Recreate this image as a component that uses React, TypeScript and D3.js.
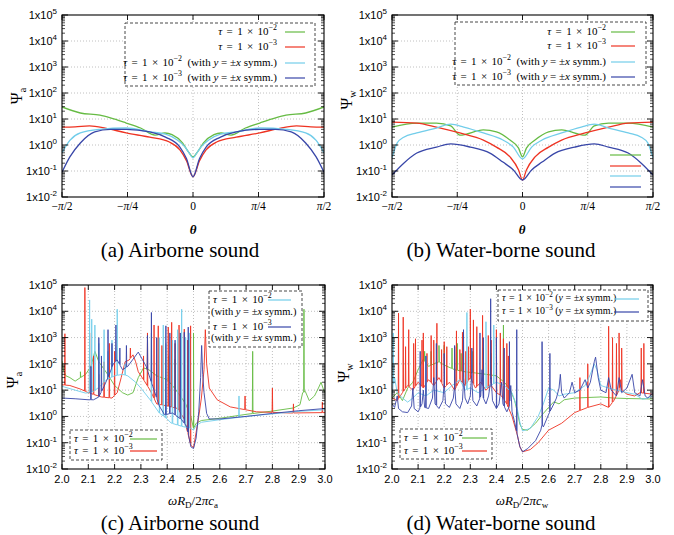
import React from 'react';
import * as d3 from 'd3';

type P = [number, number];

const GREEN = '#66bb44';
const RED = '#ee3322';
const CYAN = '#72cdea';
const BLUE = '#3846a8';

const logExponents = [-2, -1, 0, 1, 2, 3, 4, 5];
const thetaTicks = [-0.5, -0.25, 0, 0.25, 0.5];
const thetaTickLabels = ['−π/2', '−π/4', '0', 'π/4', 'π/2'];
const freqTicks = [2.0, 2.1, 2.2, 2.3, 2.4, 2.5, 2.6, 2.7, 2.8, 2.9, 3.0];

// ---------- (a) airborne, theta in units of pi ----------
const aGreen: P[] = [
  [-0.5, 29], [-0.43, 17], [-0.355, 14], [-0.315, 11], [-0.255, 7], [-0.2, 4.5], [-0.145, 2.4], [-0.107, 2.9],
  [-0.08, 2.5], [-0.04, 1.2], [-0.02, 0.6], [0, 0.35],
  [0.02, 0.6], [0.04, 1.2], [0.08, 2.5], [0.107, 2.9], [0.145, 2.4], [0.2, 4.5], [0.255, 7], [0.315, 11],
  [0.355, 14], [0.43, 17], [0.5, 29],
];
const aRed: P[] = [
  [-0.5, 4.9], [-0.45, 5.0], [-0.395, 5.4], [-0.335, 4.5], [-0.255, 2.9], [-0.165, 2.0], [-0.09, 1.3],
  [-0.05, 0.65], [-0.025, 0.25], [0, 0.06],
  [0.025, 0.25], [0.05, 0.65], [0.09, 1.3], [0.165, 2.0], [0.255, 2.9], [0.335, 4.5], [0.395, 5.4],
  [0.45, 5.0], [0.5, 4.9],
];
const aCyan: P[] = [
  [-0.5, 0.5], [-0.47, 1.5], [-0.43, 2.9], [-0.355, 4.0], [-0.255, 4.5], [-0.165, 3.2], [-0.105, 2.6],
  [-0.06, 1.55], [-0.03, 0.83], [-0.015, 0.5], [0, 0.32],
  [0.015, 0.5], [0.03, 0.83], [0.06, 1.55], [0.105, 2.6], [0.165, 3.2], [0.255, 4.5], [0.355, 4.0],
  [0.43, 2.9], [0.47, 1.5], [0.5, 0.5],
];
const aBlue: P[] = [
  [-0.5, 0.09], [-0.47, 0.35], [-0.43, 1.2], [-0.375, 3.2], [-0.315, 4.0], [-0.255, 4.0], [-0.165, 3.2],
  [-0.105, 2.0], [-0.05, 0.83], [-0.025, 0.3], [0, 0.06],
  [0.025, 0.3], [0.05, 0.83], [0.105, 2.0], [0.165, 3.2], [0.255, 4.0], [0.315, 4.0], [0.375, 3.2],
  [0.43, 1.2], [0.47, 0.35], [0.5, 0.09],
];

// ---------- (b) water-borne, theta in units of pi ----------
const bGreen: P[] = [
  [-0.5, 4.9], [-0.405, 7], [-0.33, 7], [-0.275, 5.4], [-0.24, 2.4], [-0.15, 3.8], [-0.1, 3.2], [-0.048, 1.55],
  [-0.015, 0.76], [0, 0.35],
  [0.015, 0.76], [0.048, 1.55], [0.1, 3.2], [0.15, 3.8], [0.24, 2.4], [0.275, 5.4], [0.33, 7], [0.405, 7],
  [0.5, 4.9],
];
const bRed: P[] = [
  [-0.5, 7.6], [-0.405, 7], [-0.33, 4.9], [-0.24, 2.9], [-0.15, 1.55], [-0.1, 0.83], [-0.048, 0.35],
  [-0.015, 0.11], [0, 0.045],
  [0.015, 0.11], [0.048, 0.35], [0.1, 0.83], [0.15, 1.55], [0.24, 2.9], [0.33, 4.9], [0.405, 7], [0.5, 7.6],
];
const bCyan: P[] = [
  [-0.5, 0.32], [-0.48, 1.2], [-0.455, 2.0], [-0.405, 2.9], [-0.33, 4.5], [-0.275, 6.3], [-0.225, 4.9],
  [-0.15, 2.9], [-0.075, 1.55], [-0.035, 0.83], [0, 0.29],
  [0.035, 0.83], [0.075, 1.55], [0.15, 2.9], [0.225, 4.9], [0.275, 6.3], [0.33, 4.5], [0.405, 2.9],
  [0.455, 2.0], [0.48, 1.2], [0.5, 0.32],
];
const bBlue: P[] = [
  [-0.5, 0.07], [-0.455, 0.2], [-0.405, 0.49], [-0.33, 0.83], [-0.275, 1.1], [-0.2, 0.83], [-0.125, 0.49],
  [-0.075, 0.22], [-0.035, 0.11], [0, 0.045],
  [0.035, 0.11], [0.075, 0.22], [0.125, 0.49], [0.2, 0.83], [0.275, 1.1], [0.33, 0.83], [0.405, 0.49],
  [0.455, 0.2], [0.5, 0.07],
];

// ---------- (c) airborne vs frequency ----------
const cGreenBase: P[] = [
  [2.0, 130], [2.005, 60], [2.015, 35], [2.03, 30], [2.05, 22], [2.07, 30], [2.09, 40], [2.11, 80], [2.125, 300],
  [2.14, 120], [2.17, 45], [2.2, 15], [2.23, 8], [2.25, 6.5], [2.27, 8], [2.29, 30], [2.31, 70], [2.33, 60],
  [2.36, 35], [2.4, 25], [2.42, 15], [2.45, 6], [2.47, 3], [2.49, 1.0], [2.5, 0.35], [2.51, 0.55], [2.53, 0.7],
  [2.6, 0.85], [2.7, 1.2], [2.8, 1.6], [2.88, 2.1], [2.905, 2.8], [2.915, 8], [2.925, 9], [2.94, 4], [2.96, 6],
  [2.975, 12], [2.985, 20], [2.995, 10], [3.0, 8],
];
const cGreenSpikes: P[] = [[2.07, 50], [2.405, 200], [2.43, 150], [2.5, 1500], [2.725, 300], [2.92, 12000]];

const cRedBase: P[] = [
  [2.0, 16], [2.03, 15], [2.07, 11], [2.1, 8], [2.15, 5.5], [2.19, 5], [2.21, 8], [2.225, 30], [2.24, 120],
  [2.255, 140], [2.27, 220], [2.28, 120], [2.29, 50], [2.31, 25], [2.335, 10], [2.36, 3], [2.4, 2.5], [2.44, 2],
  [2.465, 0.8], [2.48, 0.2], [2.49, 0.08], [2.5, 0.065], [2.51, 0.25], [2.52, 1], [2.53, 5], [2.54, 60],
  [2.545, 2000], [2.55, 100], [2.56, 12], [2.59, 4.3], [2.64, 2.3], [2.74, 1.5], [2.87, 1.35], [3.0, 1.4],
];
const cRedSpikes: P[] = [
  [2.011, 1400], [2.087, 80000], [2.105, 1500], [2.12, 200], [2.14, 40], [2.16, 120], [2.18, 600], [2.2, 300],
  [2.26, 400], [2.31, 200], [2.325, 1500], [2.35, 3000], [2.366, 2800], [2.38, 500], [2.404, 2500],
  [2.417, 3800], [2.43, 600], [2.445, 3000], [2.465, 2100], [2.478, 800], [2.489, 2800], [2.696, 6], [2.8, 12],
  [2.88, 3], [2.99, 3.5],
];

const cCyanBase: P[] = [
  [2.0, 14], [2.05, 10], [2.09, 7.7], [2.12, 9], [2.145, 14], [2.17, 25], [2.2, 35], [2.23, 40], [2.25, 35],
  [2.28, 20], [2.3, 12], [2.335, 4.3], [2.37, 1.35], [2.4, 0.8], [2.415, 0.56], [2.456, 0.42], [2.49, 0.35],
  [2.5, 0.3], [2.51, 0.45], [2.53, 0.6], [2.6, 0.75], [2.7, 1.0], [2.8, 1.25], [2.9, 1.55], [3.0, 1.8],
];
const cCyanSpikes: P[] = [
  [2.105, 27000], [2.113, 5000], [2.125, 3000], [2.14, 600], [2.16, 2000], [2.175, 300], [2.19, 800],
  [2.21, 12000], [2.24, 100], [2.34, 1500], [2.37, 1000], [2.385, 3000], [2.395, 600], [2.42, 800],
  [2.44, 2000], [2.455, 12000], [2.47, 1000], [2.485, 1500], [2.673, 6],
];

const cBlueBase: P[] = [
  [2.0, 5], [2.05, 4.7], [2.1, 4.3], [2.12, 4.3], [2.14, 5.5], [2.16, 14], [2.18, 40], [2.195, 100], [2.21, 140],
  [2.23, 60], [2.25, 80], [2.27, 150], [2.29, 280], [2.305, 150], [2.32, 80], [2.345, 14], [2.37, 2.5],
  [2.39, 1.15], [2.42, 1.35], [2.455, 0.75], [2.475, 0.4], [2.49, 0.07], [2.5, 0.06], [2.51, 0.15], [2.52, 1.5],
  [2.527, 30], [2.531, 500], [2.535, 40], [2.54, 8], [2.55, 1.3], [2.56, 0.8], [2.6, 0.8], [2.7, 1.0], [2.8, 1.3],
  [2.9, 1.65], [3.0, 2.0],
];
const cBlueSpikes: P[] = [
  [2.11, 80], [2.14, 1000], [2.15, 200], [2.175, 2000], [2.19, 600], [2.205, 3000], [2.22, 400], [2.245, 500],
  [2.325, 1200], [2.34, 9000], [2.36, 1000], [2.395, 2800], [2.41, 1500], [2.43, 800], [2.45, 1500],
  [2.465, 1600], [2.48, 2500],
];

// ---------- (d) water-borne vs frequency ----------
const dGreenBase: P[] = [
  [2.0, 5], [2.02, 8], [2.04, 4], [2.06, 12], [2.08, 20], [2.1, 60], [2.12, 150], [2.14, 80], [2.16, 100],
  [2.18, 120], [2.2, 90], [2.24, 60], [2.28, 50], [2.32, 45], [2.36, 40], [2.4, 35], [2.43, 20], [2.45, 12],
  [2.47, 4], [2.48, 1.5], [2.49, 0.5], [2.5, 0.32], [2.52, 0.3], [2.55, 0.55], [2.58, 1.3], [2.6, 2.2],
  [2.62, 3.6], [2.64, 3], [2.66, 4.3], [2.7, 5], [2.8, 5.5], [2.85, 5], [2.9, 4.8], [3.0, 4.6],
];
const dGreenSpikes: P[] = [
  [2.125, 300], [2.15, 300], [2.18, 500], [2.2, 500], [2.23, 400], [2.25, 600], [2.265, 250], [2.31, 300],
  [2.35, 400], [2.38, 250], [2.427, 3000],
];

const dRedBase: P[] = [
  [2.0, 5], [2.02, 4], [2.04, 8], [2.06, 15], [2.08, 10], [2.1, 20], [2.12, 12], [2.14, 25], [2.16, 15],
  [2.18, 30], [2.2, 12], [2.22, 20], [2.24, 10], [2.26, 25], [2.28, 15], [2.3, 30], [2.32, 12], [2.34, 20],
  [2.36, 10], [2.38, 15], [2.4, 8], [2.42, 6], [2.44, 3], [2.46, 1], [2.48, 0.2], [2.49, 0.07], [2.5, 0.045],
  [2.53, 0.055], [2.56, 0.1], [2.6, 0.3], [2.65, 0.55], [2.7, 1.4], [2.75, 2.2], [2.8, 3], [2.83, 2.2],
  [2.85, 4], [2.87, 10], [2.875, 25], [2.88, 10], [2.9, 7], [2.93, 6], [2.95, 8], [3.0, 7],
];
const dRedSpikes: P[] = [
  [2.025, 8500], [2.043, 6000], [2.052, 450], [2.064, 2000], [2.083, 600], [2.09, 900], [2.115, 800],
  [2.12, 1500], [2.134, 250], [2.15, 1200], [2.16, 800], [2.172, 3500], [2.19, 350], [2.2, 700], [2.21, 450],
  [2.24, 450], [2.247, 1800], [2.26, 350], [2.27, 1600], [2.283, 300], [2.293, 450], [2.3, 12000],
  [2.312, 4700], [2.325, 2600], [2.347, 7000], [2.369, 1200], [2.38, 800], [2.4, 2000], [2.415, 1500],
  [2.427, 900], [2.44, 600], [2.446, 200], [2.72, 30], [2.75, 100], [2.83, 2700], [2.845, 1000], [2.86, 600],
  [2.87, 1500], [2.88, 400], [2.955, 400], [2.965, 600],
];

const dCyanBase: P[] = [
  [2.0, 7], [2.01, 30], [2.02, 8], [2.04, 5], [2.06, 3.5], [2.08, 5], [2.1, 8], [2.13, 6], [2.16, 10], [2.2, 8],
  [2.23, 15], [2.26, 25], [2.28, 10], [2.3, 12], [2.33, 8], [2.36, 12], [2.4, 20], [2.43, 15], [2.46, 8],
  [2.48, 2], [2.49, 0.6], [2.5, 0.28], [2.53, 0.35], [2.56, 1], [2.58, 3], [2.6, 12], [2.62, 10], [2.64, 6],
  [2.66, 7], [2.7, 8], [2.74, 15], [2.76, 40], [2.775, 100], [2.785, 60], [2.8, 15], [2.83, 12], [2.86, 10],
  [2.9, 8], [2.93, 7], [2.96, 4.5], [2.98, 5], [3.0, 6],
];
const dCyanSpikes: P[] = [[2.005, 1500], [2.13, 200], [2.287, 9000], [2.36, 4000], [2.39, 3000]];

const dBlueBase: P[] = [
  [2.0, 3], [2.01, 2.2], [2.02, 6], [2.025, 2], [2.04, 1.5], [2.06, 1.4], [2.075, 2.5], [2.08, 12], [2.085, 2],
  [2.1, 1.5], [2.115, 3], [2.12, 10], [2.125, 2.2], [2.14, 2], [2.155, 5], [2.16, 30], [2.165, 3], [2.18, 2],
  [2.195, 4], [2.2, 20], [2.205, 3], [2.22, 2.2], [2.235, 5], [2.24, 15], [2.245, 3], [2.26, 2], [2.27, 4],
  [2.275, 30], [2.28, 5], [2.29, 3], [2.3, 6], [2.305, 40], [2.31, 4], [2.325, 2.5], [2.34, 6], [2.345, 60],
  [2.35, 5], [2.36, 3], [2.37, 6], [2.38, 30], [2.385, 4], [2.4, 2], [2.41, 3], [2.42, 20], [2.425, 3],
  [2.44, 1.5], [2.45, 2.5], [2.455, 15], [2.46, 1.5], [2.47, 0.6], [2.48, 0.2], [2.49, 0.07], [2.5, 0.045],
  [2.52, 0.06], [2.55, 0.12], [2.57, 0.3], [2.575, 0.5], [2.58, 0.4], [2.6, 1.2], [2.62, 3], [2.63, 5],
  [2.64, 12], [2.645, 40], [2.65, 8], [2.66, 5], [2.68, 8], [2.69, 20], [2.7, 8], [2.72, 10], [2.74, 25],
  [2.75, 12], [2.76, 20], [2.775, 120], [2.78, 180], [2.79, 30], [2.8, 10], [2.82, 8], [2.83, 30], [2.84, 10],
  [2.86, 6], [2.87, 30], [2.88, 8], [2.9, 12], [2.92, 40], [2.93, 8], [2.95, 6], [2.96, 25], [2.97, 6],
  [2.98, 5], [3.0, 8],
];
const dBlueSpikes: P[] = [
  [2.108, 300], [2.13, 200], [2.17, 600], [2.2, 250], [2.24, 500], [2.274, 2000], [2.306, 400], [2.337, 1500],
  [2.35, 1000], [2.378, 30000], [2.4, 1000], [2.43, 400], [2.45, 700], [2.478, 2000], [2.575, 700],
  [2.605, 250],
];

// ---------- helpers ----------
function withSpikes(base: P[], spikes: P[]): P[] {
  const interp = d3.scaleLinear().domain(base.map((p) => p[0])).range(base.map((p) => Math.log10(p[1])));
  const pts: P[] = base.map((p) => [p[0], p[1]] as P);
  const dx = 0.0012;
  spikes.forEach(([x, pk]) => {
    pts.push([x - dx, Math.pow(10, interp(x - dx))], [x, pk], [x + dx, Math.pow(10, interp(x + dx))]);
  });
  return pts.sort((a, b) => a[0] - b[0]);
}

type Box = { l: number; r: number; t: number; b: number };
type Series = { data: P[]; color: string };

const SERIF = '"Liberation Serif", "Times New Roman", serif';
const SANS = '"Liberation Sans", Arial, sans-serif';

function TauText({ x, y, exp, suffix, anchor = 'end', size = 11 }: any) {
  return (
    <text x={x} y={y} fontFamily={SERIF} fontSize={size} textAnchor={anchor} dominantBaseline="middle">
      <tspan fontStyle="italic">τ</tspan>
      <tspan wordSpacing={suffix === 'short' ? 0.8 : 1.6}> = 1 × 10</tspan>
      <tspan dy={-4} fontSize={size * 0.72}>{exp}</tspan>
      <tspan dy={4}>{suffix === 'with' ? '\u00a0 (with ' : suffix === 'short' ? ' (' : ''}</tspan>
      {suffix ? <tspan fontStyle="italic">y</tspan> : null}
      {suffix ? <tspan> = ±</tspan> : null}
      {suffix ? <tspan fontStyle="italic">x</tspan> : null}
      {suffix ? <tspan> symm.)</tspan> : null}
    </text>
  );
}

function WithText({ x, y, size = 10.5 }: any) {
  return (
    <text x={x} y={y} fontFamily={SERIF} fontSize={size} textAnchor="start" dominantBaseline="middle">
      <tspan>(with </tspan>
      <tspan fontStyle="italic">y</tspan>
      <tspan> = ±</tspan>
      <tspan fontStyle="italic">x</tspan>
      <tspan> symm.)</tspan>
    </text>
  );
}

function Panel({ id, box, kind, series, children }: { id: string; box: Box; kind: 'theta' | 'freq'; series: Series[]; children?: any }) {
  const x = kind === 'theta'
    ? d3.scaleLinear().domain([-0.5, 0.5]).range([box.l, box.r])
    : d3.scaleLinear().domain([2, 3]).range([box.l, box.r]);
  const y = d3.scaleLog().domain([1e-2, 1e5]).range([box.b, box.t]);
  const line = d3.line<P>().x((d) => x(d[0])).y((d) => y(d[1])).curve(kind === 'theta' ? d3.curveMonotoneX : d3.curveLinear);
  const xt = kind === 'theta' ? thetaTicks : freqTicks;
  const minor: number[] = [];
  for (let k = -2; k < 5; k++) for (let m = 2; m <= 9; m++) minor.push(m * Math.pow(10, k));
  return (
    <g>
      <defs>
        <clipPath id={`clip-${id}`}>
          <rect x={box.l} y={box.t} width={box.r - box.l} height={box.b - box.t} />
        </clipPath>
      </defs>
      {xt.slice(1, -1).map((v) => (
        <line key={`gx${v}`} x1={x(v)} x2={x(v)} y1={box.t} y2={box.b} stroke="#b0b0b0" strokeWidth={0.8} strokeDasharray="1,2" />
      ))}
      {logExponents.slice(1, -1).map((e) => (
        <line key={`gy${e}`} x1={box.l} x2={box.r} y1={y(Math.pow(10, e))} y2={y(Math.pow(10, e))} stroke="#b0b0b0" strokeWidth={0.8} strokeDasharray="1,2" />
      ))}
      <g clipPath={`url(#clip-${id})`}>
        {series.map((s, i) => (
          <path key={i} d={line(s.data) || ''} fill="none" stroke={s.color}
            strokeWidth={kind === 'theta' ? 1.3 : 1.0} strokeOpacity={kind === 'theta' ? 1 : 0.9} strokeLinejoin="round" />
        ))}
      </g>
      {xt.map((v) => (
        <g key={`tx${v}`}>
          <line x1={x(v)} x2={x(v)} y1={box.b} y2={box.b - 5} stroke="#000" strokeWidth={0.9} />
          <line x1={x(v)} x2={x(v)} y1={box.t} y2={box.t + 5} stroke="#000" strokeWidth={0.9} />
        </g>
      ))}
      {logExponents.map((e) => (
        <g key={`ty${e}`}>
          <line x1={box.l} x2={box.l + 6} y1={y(Math.pow(10, e))} y2={y(Math.pow(10, e))} stroke="#000" strokeWidth={0.9} />
          <line x1={box.r} x2={box.r - 6} y1={y(Math.pow(10, e))} y2={y(Math.pow(10, e))} stroke="#000" strokeWidth={0.9} />
        </g>
      ))}
      {minor.map((v) => (
        <g key={`m${v}`}>
          <line x1={box.l} x2={box.l + 3} y1={y(v)} y2={y(v)} stroke="#000" strokeWidth={0.7} />
          <line x1={box.r} x2={box.r - 3} y1={y(v)} y2={y(v)} stroke="#000" strokeWidth={0.7} />
        </g>
      ))}
      <rect x={box.l} y={box.t} width={box.r - box.l} height={box.b - box.t} fill="none" stroke="#000" strokeWidth={1.1} />
      {logExponents.map((e) => (
        <text key={`ly${e}`} x={box.l - 5} y={y(Math.pow(10, e)) + 4} fontFamily={SANS} fontSize={11} textAnchor="end">
          <tspan>1x10</tspan>
          <tspan dy={-5} fontSize={8}>{e < 0 ? `-${-e}` : `${e}`}</tspan>
        </text>
      ))}
      {kind === 'theta'
        ? thetaTicks.map((v, i) => (
            <text key={`lx${v}`} x={x(v)} y={box.b + 13} fontFamily={SERIF} fontSize={11.5} textAnchor="middle">
              {thetaTickLabels[i].split('π').map((part, j, arr) => (
                <React.Fragment key={j}>
                  <tspan>{part}</tspan>
                  {j < arr.length - 1 ? <tspan fontStyle="italic">π</tspan> : null}
                </React.Fragment>
              ))}
            </text>
          ))
        : freqTicks.map((v) => (
            <text key={`lx${v}`} x={x(v)} y={box.b + 14} fontFamily={SANS} fontSize={11} textAnchor="middle">
              {v.toFixed(1)}
            </text>
          ))}
      {children}
    </g>
  );
}

function LegendLine({ x1, x2, y, color }: any) {
  return <line x1={x1} x2={x2} y1={y} y2={y} stroke={color} strokeWidth={1.2} />;
}

function Box2({ x, y, w, h }: any) {
  return <rect x={x} y={y} width={w} height={h} fill="#fff" stroke="#333" strokeWidth={0.9} strokeDasharray="3,2" />;
}

function PsiLabel({ x, y, sub }: any) {
  return (
    <text transform={`translate(${x},${y}) rotate(-90)`} fontFamily={SERIF} fontSize={16} textAnchor="middle">
      <tspan>Ψ</tspan>
      <tspan dy={4} fontSize={10}>{sub}</tspan>
    </text>
  );
}

function FreqLabel({ x, y, sub }: any) {
  return (
    <text x={x} y={y} fontFamily={SERIF} fontSize={13} textAnchor="middle">
      <tspan fontStyle="italic">ωR</tspan>
      <tspan dy={3} fontSize={9}>D</tspan>
      <tspan dy={-3}>/2</tspan>
      <tspan fontStyle="italic">πc</tspan>
      <tspan dy={3} fontSize={9}>{sub}</tspan>
    </text>
  );
}

export default function App() {
  const boxA: Box = { l: 62, r: 324, t: 15, b: 197 };
  const boxB: Box = { l: 392, r: 653, t: 15, b: 197 };
  const boxC: Box = { l: 62, r: 325, t: 285, b: 469 };
  const boxD: Box = { l: 392, r: 653, t: 285, b: 469 };

  const seriesA: Series[] = [
    { data: aGreen, color: GREEN }, { data: aRed, color: RED }, { data: aCyan, color: CYAN }, { data: aBlue, color: BLUE },
  ];
  const seriesB: Series[] = [
    { data: bGreen, color: GREEN }, { data: bRed, color: RED }, { data: bCyan, color: CYAN }, { data: bBlue, color: BLUE },
  ];
  const seriesC: Series[] = [
    { data: withSpikes(cGreenBase, cGreenSpikes), color: GREEN },
    { data: withSpikes(cRedBase, cRedSpikes), color: RED },
    { data: withSpikes(cCyanBase, cCyanSpikes), color: CYAN },
    { data: withSpikes(cBlueBase, cBlueSpikes), color: BLUE },
  ];
  const seriesD: Series[] = [
    { data: withSpikes(dGreenBase, dGreenSpikes), color: GREEN },
    { data: withSpikes(dRedBase, dRedSpikes), color: RED },
    { data: withSpikes(dCyanBase, dCyanSpikes), color: CYAN },
    { data: withSpikes(dBlueBase, dBlueSpikes), color: BLUE },
  ];

  return (
    <svg width={674} height={535} viewBox="0 0 674 535" style={{ position: 'absolute', left: 0, top: 0, background: '#fff' }}>
      <rect x={0} y={0} width={674} height={535} fill="#fff" />
      {/* (a) */}
      <Panel id="a" box={boxA} kind="theta" series={seriesA}>
        <Box2 x={125} y={23} w={190} h={63} />
        <TauText x={277} y={32} exp="−2" />
        <TauText x={277} y={47} exp="−3" />
        <TauText x={277} y={63} exp="−2" suffix="with" />
        <TauText x={277} y={78} exp="−3" suffix="with" />
        <LegendLine x1={285} x2={305} y={32} color={GREEN} />
        <LegendLine x1={285} x2={305} y={47} color={RED} />
        <LegendLine x1={285} x2={305} y={63} color={CYAN} />
        <LegendLine x1={285} x2={305} y={78} color={BLUE} />
      </Panel>
      <PsiLabel x={22} y={96} sub="a" />
      <text x={193} y={234} fontFamily={SERIF} fontSize={13} fontStyle="italic" fontWeight="bold" textAnchor="middle">θ</text>
      <text x={180} y={257} fontFamily={SERIF} fontSize={21} textAnchor="middle">(a) Airborne sound</text>

      {/* (b) */}
      <Panel id="b" box={boxB} kind="theta" series={seriesB}>
        <Box2 x={455} y={22} w={191} h={63} />
        <TauText x={606} y={32} exp="−2" />
        <TauText x={606} y={46} exp="−3" />
        <TauText x={606} y={62} exp="−2" suffix="with" />
        <TauText x={606} y={77} exp="−3" suffix="with" />
        <LegendLine x1={611} x2={635} y={32} color={GREEN} />
        <LegendLine x1={611} x2={635} y={46} color={RED} />
        <LegendLine x1={611} x2={635} y={62} color={CYAN} />
        <LegendLine x1={611} x2={635} y={77} color={BLUE} />
        <LegendLine x1={610} x2={641} y={155} color={GREEN} />
        <LegendLine x1={610} x2={641} y={166} color={RED} />
        <LegendLine x1={610} x2={641} y={176} color={CYAN} />
        <LegendLine x1={610} x2={641} y={187} color={BLUE} />
      </Panel>
      <PsiLabel x={352} y={100} sub="w" />
      <text x={522} y={234} fontFamily={SERIF} fontSize={13} fontStyle="italic" fontWeight="bold" textAnchor="middle">θ</text>
      <text x={501} y={257} fontFamily={SERIF} fontSize={21} textAnchor="middle">(b) Water-borne sound</text>

      {/* (c) */}
      <Panel id="c" box={boxC} kind="freq" series={seriesC}>
        <Box2 x={209} y={291} w={93} h={56} />
        <TauText x={213} y={300} exp="−2" anchor="start" />
        <WithText x={211} y={313} />
        <TauText x={213} y={327} exp="−3" anchor="start" />
        <WithText x={211} y={339} />
        <LegendLine x1={268} x2={291} y={300} color={CYAN} />
        <LegendLine x1={268} x2={291} y={327} color={BLUE} />
        <Box2 x={70} y={430} w={92} h={30} />
        <TauText x={74} y={439} exp="−2" anchor="start" />
        <TauText x={74} y={451} exp="−3" anchor="start" />
        <LegendLine x1={130} x2={157} y={439} color={GREEN} />
        <LegendLine x1={130} x2={157} y={451} color={RED} />
      </Panel>
      <PsiLabel x={18} y={380} sub="a" />
      <FreqLabel x={193} y={505} sub="a" />
      <text x={180} y={530} fontFamily={SERIF} fontSize={21} textAnchor="middle">(c) Airborne sound</text>

      {/* (d) */}
      <Panel id="d" box={boxD} kind="freq" series={seriesD}>
        <Box2 x={498} y={290} w={150} h={31} />
        <TauText x={502} y={299} exp="−2" anchor="start" suffix="short" size={10} />
        <TauText x={502} y={312} exp="−3" anchor="start" suffix="short" size={10} />
        <LegendLine x1={614} x2={639} y={299} color={CYAN} />
        <LegendLine x1={614} x2={639} y={312} color={BLUE} />
        <Box2 x={400} y={429} w={92} h={30} />
        <TauText x={404} y={438} exp="−2" anchor="start" />
        <TauText x={404} y={451} exp="−3" anchor="start" />
        <LegendLine x1={462} x2={487} y={438} color={GREEN} />
        <LegendLine x1={462} x2={487} y={451} color={RED} />
      </Panel>
      <PsiLabel x={349} y={373} sub="w" />
      <FreqLabel x={522} y={505} sub="w" />
      <text x={501} y={530} fontFamily={SERIF} fontSize={21} textAnchor="middle">(d) Water-borne sound</text>
    </svg>
  );
}
